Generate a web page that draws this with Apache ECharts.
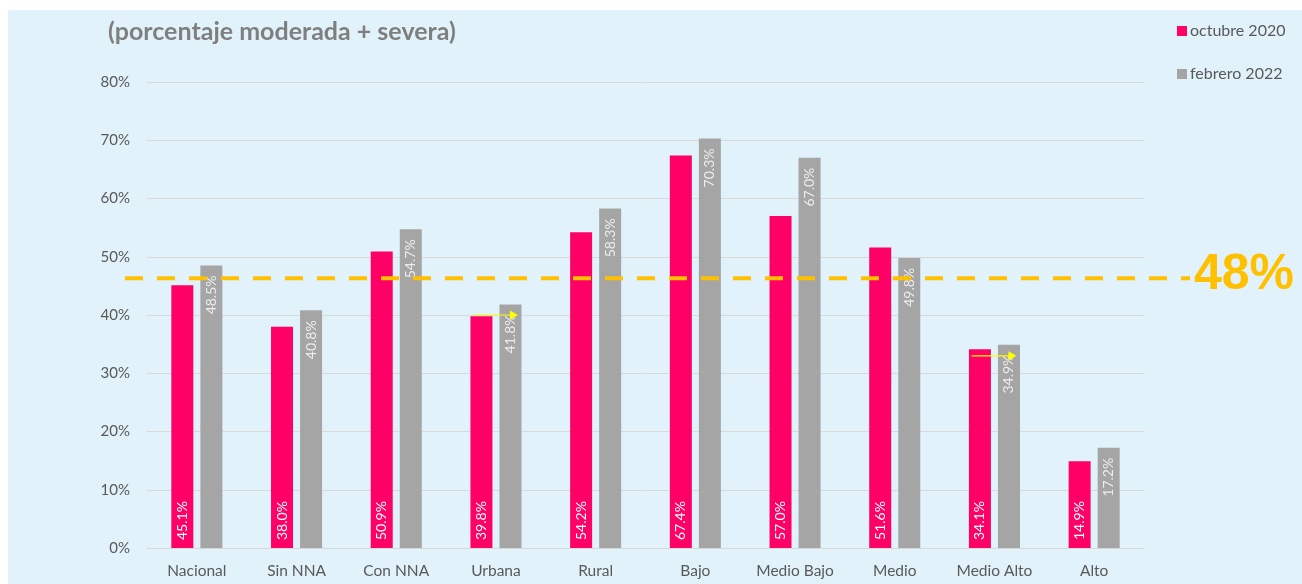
<!DOCTYPE html>
<html>
<head>
<meta charset="utf-8">
<script src="https://cdn.jsdelivr.net/npm/echarts@6/dist/echarts.min.js"></script>
<style>
  html, body { margin: 0; padding: 0; background: #ffffff; width: 1302px; height: 584px; overflow: hidden; }
  #chart { position: absolute; left: 8px; top: 10px; width: 1294px; height: 574px; background: #E1F2FA; }
</style>
</head>
<body>
<div id="chart"></div>
<script>
const categories = ['Nacional', 'Sin NNA', 'Con NNA', 'Urbana', 'Rural', 'Bajo', 'Medio Bajo', 'Medio', 'Medio Alto', 'Alto'];
const octubre2020 = [45.1, 38.0, 50.9, 39.8, 54.2, 67.4, 57.0, 51.6, 34.1, 14.9];
const febrero2022 = [48.5, 40.8, 54.7, 41.8, 58.3, 70.3, 67.0, 49.8, 34.9, 17.2];
const yTicks = [0, 10, 20, 30, 40, 50, 60, 70, 80];
const referenceLevel = 46.3;
const referenceLabel = '48%';
const arrowMarks = [[3, 40.0], [8, 33.0]];

const FONT = 'Lato';
const chart = echarts.init(document.getElementById('chart'), null, { renderer: 'canvas' });

const option = {
  backgroundColor: '#E1F2FA',
  animation: false,
  title: {
    text: '(porcentaje moderada + severa)',
    left: 95, top: 4,
    textStyle: { fontFamily: FONT, fontWeight: 'bold', fontSize: 25, color: '#7F7F7F' }
  },
  legend: {
    orient: 'vertical',
    left: 1164, top: 8,
    itemWidth: 10, itemHeight: 10, itemGap: 27,
    icon: 'rect',
    textStyle: { fontFamily: FONT, fontSize: 16, color: '#595959', padding: [0, 0, 0, -2] },
    data: ['octubre 2020', 'febrero 2022']
  },
  grid: [
    { left: 139, right: 158, top: 72, bottom: 36 },
    { left: 117, right: 112, top: 72, bottom: 36 }
  ],
  xAxis: [
    {
      type: 'category', data: categories, gridIndex: 0,
      axisLine: { show: true, lineStyle: { color: '#D9D9D9', width: 1 } },
      axisTick: { show: false },
      axisLabel: { interval: 0, fontFamily: FONT, fontSize: 15.5, color: '#595959', margin: 15 }
    },
    { type: 'value', gridIndex: 1, min: 0, max: 1, show: false }
  ],
  yAxis: [
    {
      type: 'value', gridIndex: 0, min: yTicks[0], max: yTicks[yTicks.length - 1], interval: 10,
      axisLine: { show: false }, axisTick: { show: false },
      splitLine: { lineStyle: { color: '#D9D9D9', width: 1 } },
      axisLabel: { fontFamily: FONT, fontSize: 15, color: '#595959', margin: 17, formatter: v => v + '%' }
    },
    { type: 'value', gridIndex: 1, min: 0, max: 80, show: false }
  ],
  series: [
    {
      name: 'octubre 2020', type: 'bar', data: octubre2020,
      barWidth: 22, barGap: '32%',
      itemStyle: { color: '#FF0066' },
      label: {
        show: true, position: 'insideBottom', rotate: 90, align: 'left', verticalAlign: 'middle',
        distance: 8, color: '#FFFFFF', fontFamily: FONT, fontSize: 14,
        formatter: p => p.value.toFixed(1) + '%'
      },
      z: 2
    },
    {
      name: 'febrero 2022', type: 'bar', data: febrero2022,
      barWidth: 22,
      itemStyle: { color: '#A5A5A5' },
      label: {
        show: true, position: 'insideTop', rotate: 90, align: 'right', verticalAlign: 'middle',
        distance: 10, color: '#EDEDED', fontFamily: FONT, fontSize: 14,
        formatter: p => p.value.toFixed(1) + '%'
      },
      z: 2
    },
    {
      type: 'custom', xAxisIndex: 0, yAxisIndex: 0, data: arrowMarks, z: 5, silent: true,
      renderItem: function (params, api) {
        const pt = api.coord([api.value(0), api.value(1)]);
        const x0 = pt[0] - 23, x1 = pt[0] + 22, y = pt[1];
        return {
          type: 'group',
          children: [
            { type: 'line', shape: { x1: x0, y1: y, x2: x1 - 6, y2: y }, style: { stroke: '#FFFF00', lineWidth: 1.2 } },
            { type: 'polygon', shape: { points: [[x1 - 8, y - 4.5], [x1, y], [x1 - 8, y + 4.5]] }, style: { fill: '#FFFF00' } }
          ]
        };
      }
    },
    {
      type: 'line', xAxisIndex: 1, yAxisIndex: 1,
      data: [[0, referenceLevel], [1, referenceLevel]],
      symbol: 'none', silent: true, z: 4,
      lineStyle: { color: '#FFC000', width: 4, type: [18, 14] },
      endLabel: {
        show: true, formatter: referenceLabel, distance: 4, offset: [0, -3],
        color: '#FFC000', fontFamily: 'Liberation Sans', fontWeight: 'bold', fontSize: 50
      }
    }
  ]
};
chart.setOption(option);
</script>
</body>
</html>
